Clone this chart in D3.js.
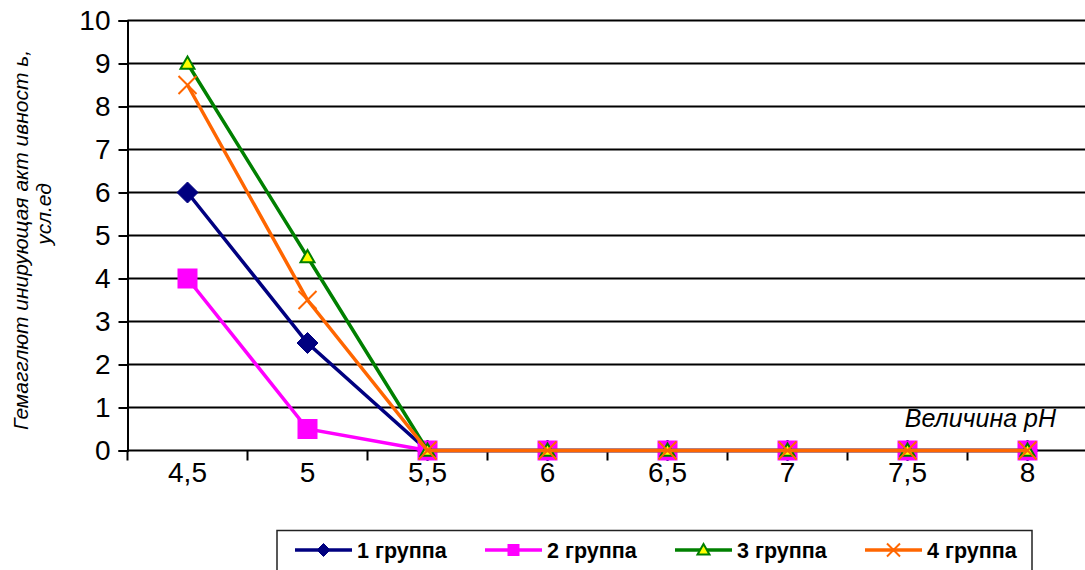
<!DOCTYPE html>
<html><head><meta charset="utf-8">
<script src="https://cdn.jsdelivr.net/npm/d3@7"></script>
<style>html,body{margin:0;padding:0;background:#fff;overflow:hidden}</style>
</head><body>
<svg id="c" width="1085" height="570"></svg>
<script>
const categories = ["4,5","5","5,5","6","6,5","7","7,5","8"];
const group1 = [6, 2.5, 0, 0, 0, 0, 0, 0];
const group2 = [4, 0.5, 0, 0, 0, 0, 0, 0];
const group3 = [9, 4.5, 0, 0, 0, 0, 0, 0];
const group4 = [8.5, 3.5, 0, 0, 0, 0, 0, 0];
const seriesNames = ["1 группа","2 группа","3 группа","4 группа"];
const yTicks = [0,1,2,3,4,5,6,7,8,9,10];

const series = [
  {name: seriesNames[0], values: group1, color: "#000080", marker: "diamond"},
  {name: seriesNames[1], values: group2, color: "#FF00FF", marker: "square"},
  {name: seriesNames[2], values: group3, color: "#008000", marker: "triangle"},
  {name: seriesNames[3], values: group4, color: "#FF6600", marker: "x"}
];

const svg = d3.select("#c");
const L = 127.5, R = 1087.5, T = 20.5, B = 450.5;
const x = d3.scaleBand().domain(categories).range([L, R]);
const y = d3.scaleLinear().domain([0, 10]).range([B, T]);
const font = "Arial, 'Liberation Sans', sans-serif";

// gridlines
svg.append("g").selectAll("line").data(yTicks.filter(d => d > 0)).join("line")
  .attr("x1", L).attr("x2", R).attr("y1", d => y(d)).attr("y2", d => y(d))
  .attr("stroke", "#000").attr("stroke-width", 2);

// y axis
const ya = svg.append("g").attr("transform", `translate(${L},0)`)
  .call(d3.axisLeft(y).tickValues(yTicks).tickSize(9).tickPadding(8).tickFormat(d3.format("d")));
ya.selectAll("path,line").attr("stroke", "#000").attr("stroke-width", 2);
ya.selectAll("text").attr("font-family", font).attr("font-size", 28).attr("fill", "#000");

// x axis
const xa = svg.append("g").attr("transform", `translate(0,${B})`)
  .call(d3.axisBottom(x).tickSize(0).tickPadding(0));
xa.select("path").remove();
xa.selectAll("text").attr("font-family", font).attr("font-size", 28).attr("fill", "#000")
  .attr("dy", null).attr("y", 31);
svg.append("line").attr("x1", L).attr("x2", R).attr("y1", B).attr("y2", B)
  .attr("stroke", "#000").attr("stroke-width", 2);
svg.append("g").selectAll("line").data(categories).join("line")
  .attr("x1", d => x(d)).attr("x2", d => x(d)).attr("y1", B).attr("y2", B + 10)
  .attr("stroke", "#000").attr("stroke-width", 2);

// markers
function drawMarker(g, type, cx, cy, color, s) {
  if (type === "diamond") {
    g.append("path").attr("d", `M${cx},${cy - s}L${cx + s},${cy}L${cx},${cy + s}L${cx - s},${cy}Z`)
      .attr("fill", color).attr("stroke", color).attr("stroke-width", 1);
  } else if (type === "square") {
    g.append("rect").attr("x", cx - s).attr("y", cy - s).attr("width", 2 * s).attr("height", 2 * s)
      .attr("fill", color).attr("stroke", color).attr("stroke-width", 1);
  } else if (type === "triangle") {
    g.append("path").attr("d", `M${cx},${cy - s}L${cx + s},${cy + s * 0.75}L${cx - s},${cy + s * 0.75}Z`)
      .attr("fill", "#FFFF00").attr("stroke", color).attr("stroke-width", 2);
  } else {
    g.append("path").attr("d", `M${cx - s},${cy - s}L${cx + s},${cy + s}M${cx - s},${cy + s}L${cx + s},${cy - s}`)
      .attr("stroke", color).attr("stroke-width", 2).attr("fill", "none");
  }
}
const msize = {diamond: 10.5, square: 9.5, triangle: 7, x: 9};
const line = d3.line().x((d, i) => x(categories[i]) + x.bandwidth() / 2).y(d => y(d));
series.forEach(s => {
  const g = svg.append("g");
  g.append("path").datum(s.values).attr("d", line)
    .attr("fill", "none").attr("stroke", s.color).attr("stroke-width", 3.5);
  s.values.forEach((v, i) => drawMarker(g, s.marker, x(categories[i]) + x.bandwidth() / 2, y(v), s.color, msize[s.marker]));
});

// y label
svg.append("text").attr("font-family", font).attr("font-size", 21).attr("font-style", "italic")
  .attr("text-anchor", "middle").attr("transform", "translate(28,240) rotate(-90)")
  .text("Гемагглют инирующая акт ивност ь,");
svg.append("text").attr("font-family", font).attr("font-size", 21).attr("font-style", "italic")
  .attr("text-anchor", "middle").attr("transform", "translate(51,214) rotate(-90)")
  .text("усл.ед");

// x label
svg.append("text").attr("font-family", font).attr("font-size", 25).attr("font-style", "italic")
  .attr("text-anchor", "end").attr("x", 1056).attr("y", 427).text("Величина pH");

// legend
const lg = svg.append("g");
lg.append("rect").attr("x", 277).attr("y", 530.5).attr("width", 755).attr("height", 50)
  .attr("fill", "#fff").attr("stroke", "#222").attr("stroke-width", 1.5);
const legX = [295, 485, 675, 865];
const lmsize = {diamond: 6.5, square: 5.5, triangle: 6, x: 6.5};
series.forEach((s, i) => {
  const x0 = legX[i], ly = 550;
  lg.append("line").attr("x1", x0).attr("x2", x0 + 57).attr("y1", ly).attr("y2", ly)
    .attr("stroke", s.color).attr("stroke-width", 3.5);
  drawMarker(lg, s.marker, x0 + 28.5, ly, s.color, lmsize[s.marker]);
  lg.append("text").attr("x", x0 + 62).attr("y", ly + 8).attr("font-family", font)
    .attr("font-size", 21.5).attr("font-weight", "bold").attr("fill", "#000").text(s.name);
});
</script>
</body></html>
